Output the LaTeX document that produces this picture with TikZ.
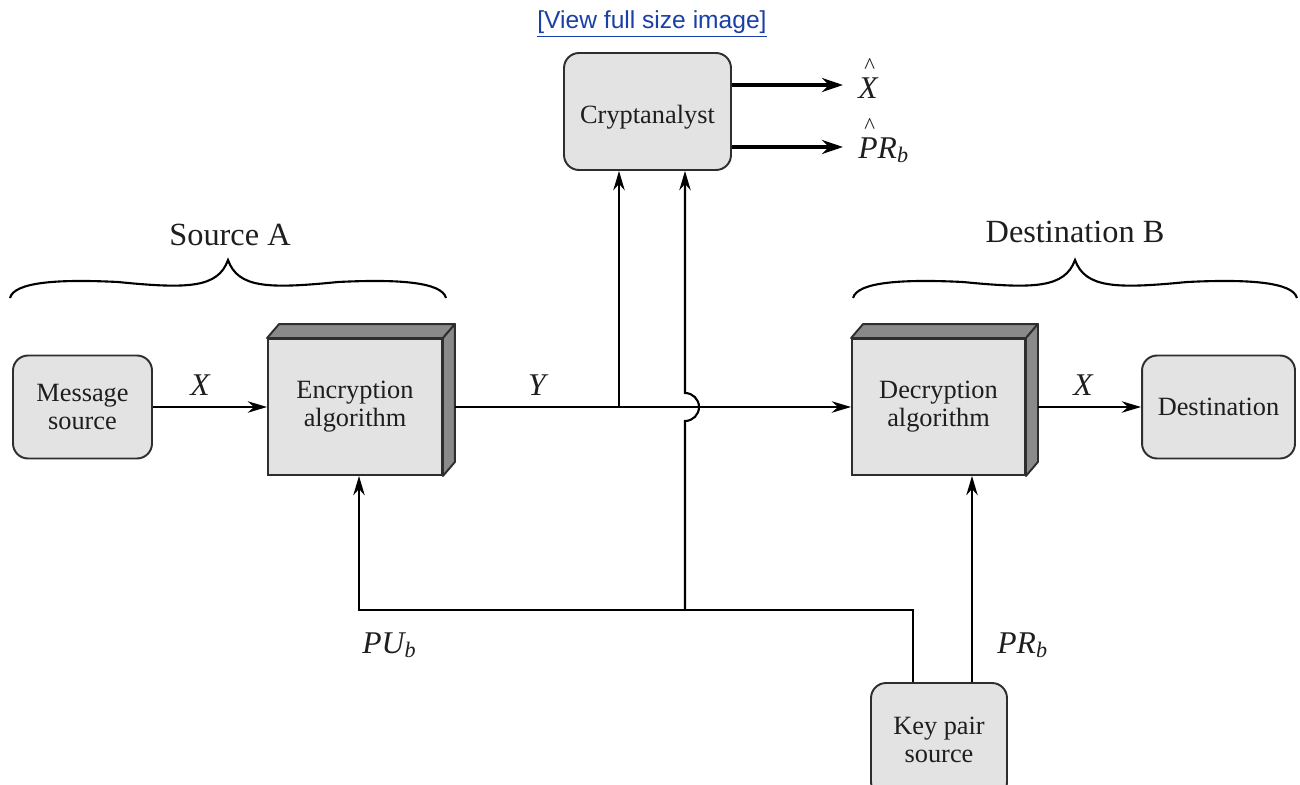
\documentclass[tikz,border=0pt]{standalone}
\usepackage{fontspec}
\setmainfont{Liberation Serif}
\newfontfamily\linkfont{Liberation Sans}
\usetikzlibrary{arrows.meta,calc}
\definecolor{boxfill}{HTML}{E3E3E3}
\definecolor{facedark}{HTML}{8A8A8A}
\definecolor{edgegray}{HTML}{2E2E2E}
\definecolor{linkblue}{HTML}{1A3FA6}
\definecolor{ink}{HTML}{1E1E1E}
\newcommand\hatabove[1]{\leavevmode\ooalign{#1\cr\hidewidth\raisebox{14pt}{\upshape\fontsize{13}{14}\selectfont\kern2pt\textasciicircum}\hidewidth\cr}}
\begin{document}
\begin{tikzpicture}[x=0.02cm,y=0.02cm,
 rbox/.style={draw=edgegray, line width=1.1pt, fill=boxfill, rounded corners=0.3cm, align=center, font=\fontsize{15}{16}\selectfont, text=ink, inner sep=0pt},
 fbox/.style={draw=edgegray, line width=1.1pt, fill=boxfill, align=center, font=\fontsize{15}{16}\selectfont, text=ink, inner sep=0pt, minimum width=3.48cm, minimum height=2.72cm},
 face/.style={draw=edgegray, line width=1.1pt, fill=facedark, line join=round},
 conn/.style={line width=1.2pt, draw=black},
 arr/.style={conn, -{Stealth[length=11pt,width=6.5pt]}},
 thickarr/.style={line width=2.8pt, -{Stealth[length=12pt,width=8pt]}},
 lbl/.style={font=\fontsize{18}{20}\selectfont\itshape, text=ink, inner sep=0pt, anchor=base},
 grp/.style={font=\fontsize{18.4}{20}\selectfont, text=ink, inner sep=0pt},
 wbrace/.pic={\draw[line width=1.2pt] (-218,-38) .. controls (-214,-22) and (-170,-19) .. (-110,-22) .. controls (-40,-29) and (-10,-28) .. (0,0) .. controls (10,-28) and (40,-29) .. (110,-22) .. controls (170,-19) and (214,-22) .. (218,-38);}
]
\fill[white] (0,0) rectangle (1300,-784);
\useasboundingbox (0,0) rectangle (1300,-784);

\node[font=\linkfont\fontsize{14}{16}\selectfont, text=linkblue] (link) at (652,-24) {\underline{[View full size image]}};

% boxes
\node[rbox, minimum width=2.78cm, minimum height=2.06cm] (msg) at (82.5,-407) {Message\\source};
\node[fbox] (enc) at (355,-407) {Encryption\\algorithm};
\node[fbox, minimum width=3.46cm] (dec) at (938.5,-407) {Decryption\\algorithm};
\node[rbox, minimum width=3.06cm, minimum height=2.06cm] (dst) at (1218.5,-407) {Destination};
\node[rbox, minimum width=3.34cm, minimum height=2.34cm, text height=0.6cm, text depth=0.116cm] (crypt) at (647.5,-111.5) {Cryptanalyst};
\node[rbox, minimum width=2.72cm, minimum height=2.28cm] (key) at (939,-740) {Key pair\\source};

\foreach \b in {enc,dec} {
  \draw[face] (\b.north west) -- ++(12,14) -- ($(\b.north east)+(12,14)$) -- (\b.north east) -- cycle;
  \draw[face] (\b.north east) -- ++(12,14) -- ($(\b.south east)+(12,14)$) -- (\b.south east) -- cycle;
}

% braces
\pic at (228,-260) {wbrace};
\pic[xscale=1.018] at (1075,-260) {wbrace};
\node[grp] (srcA) at (230,-235) {Source A};
\node[grp] (dstB) at (1075,-232) {Destination B};

% connectors
\coordinate (encout) at ($(enc.east)+(12,0)$);
\coordinate (decout) at ($(dec.east)+(12,0)$);
\coordinate (jy) at (619,-407);
\coordinate (jk) at (685,-610);
\coordinate (kl) at ($(key.north)+(-26,0)$);
\coordinate (kr) at ($(key.north)+(33,0)$);
\coordinate (encin) at ($(enc.south)+(4,0)$);
\coordinate (xh) at (843,-85);
\coordinate (ph) at (843,-147);

\draw[arr] (msg.east) -- (enc.west);
\draw[arr] (encout) -- (dec.west);
\draw[arr] (decout) -- (dst.west);
\draw[arr] (jy) -- (jy |- crypt.south);
\draw[arr] (jk) -- ++(0,189) arc[start angle=-90,end angle=90,radius=0.28cm] -- (jk |- crypt.south);
\draw[arr] (kl) |- (jk) -| (encin);
\draw[arr] (kr) -- (kr |- dec.south);
\draw[thickarr] (crypt.east |- xh) -- (xh);
\draw[thickarr] (crypt.east |- ph) -- (ph);

% labels
\node[lbl] (lx1) at (200,-395) {X};
\node[lbl] (ly) at (537,-395) {Y};
\node[lbl] (lx2) at (1083,-395) {X};
\node[lbl, anchor=base west] (lpu) at (362,-653) {PU\textsubscript{b}};
\node[lbl, anchor=base west] (lpr) at (997,-653) {PR\textsubscript{b}};
\node[lbl] (lxh) at (868,-98) {\hatabove{X}};
\node[lbl, anchor=base west] (lprh) at (858,-158) {\hatabove{P}R\textsubscript{b}};
\end{tikzpicture}
\end{document}
